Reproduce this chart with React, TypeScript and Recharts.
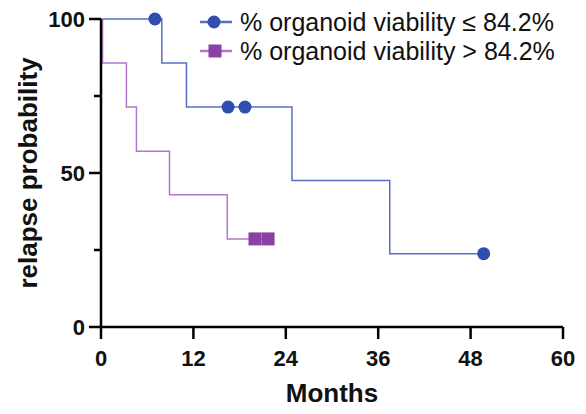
import { ComposedChart, Line, Scatter, XAxis, YAxis } from 'recharts';

// Kaplan-Meier step curves (months, % relapse probability)
const lowMonths = [0, 7.9, 11.1, 24.8, 37.5, 49.7];
const lowValues = [100, 85.7, 71.4, 47.6, 23.8, 23.8];
const lowCensorMonths = [7.0, 16.5, 18.7, 49.7];
const lowCensorValues = [100, 71.4, 71.4, 23.8];

const highMonths = [0, 0.2, 3.3, 4.6, 8.9, 16.4, 21.7];
const highValues = [100, 85.7, 71.4, 57.1, 42.9, 28.6, 28.6];
const highCensorMonths = [20.0, 21.7];
const highCensorValues = [28.6, 28.6];

const xTicks = [0, 12, 24, 36, 48, 60];
const yTicks = [0, 25, 50, 75, 100];
const yLabelTicks = [0, 50, 100];

const seriesNames = ['% organoid viability ≤ 84.2%', '% organoid viability > 84.2%'];

const BLUE_LINE = '#5a6fc3';
const BLUE_MARK = '#2f4eb0';
const PURPLE_LINE = '#b276cb';
const PURPLE_MARK = '#8b40a4';

const zip = (xs: number[], ys: number[]) => xs.map((x, i) => ({ x, y: ys[i] }));

const lowCurve = zip(lowMonths, lowValues);
const highCurve = zip(highMonths, highValues);
const lowCensor = zip(lowCensorMonths, lowCensorValues);
const highCensor = zip(highCensorMonths, highCensorValues);

const FONT = '"Liberation Sans", Arial, sans-serif';
const TICK_SIZE = 12;
const Y_GAP = 4;
const X_GAP = 11;

// tickLine is off, so recharts hands us the label anchor: axis - tickSize - tickMargin
function YTick(props: any) {
  const { x, y, payload } = props;
  const axisX = x + TICK_SIZE + Y_GAP;
  const major = yLabelTicks.includes(payload.value);
  const len = major ? TICK_SIZE : 7;
  return (
    <g>
      <line x1={axisX - len} x2={axisX} y1={y} y2={y} stroke="#000" strokeWidth={2.5} />
      {major && (
        <text x={x} y={y} dy="0.36em" textAnchor="end" fontFamily={FONT} fontWeight="bold" fontSize={22} fill="#111">
          {payload.value}
        </text>
      )}
    </g>
  );
}

function XTick(props: any) {
  const { x, y, payload } = props;
  const axisY = y - TICK_SIZE - X_GAP;
  return (
    <g>
      <line x1={x} x2={x} y1={axisY} y2={axisY + TICK_SIZE} stroke="#000" strokeWidth={2.5} />
      <text x={x} y={y} dy="0.71em" textAnchor="middle" fontFamily={FONT} fontWeight="bold" fontSize={22} fill="#111">
        {payload.value}
      </text>
    </g>
  );
}

function Dot(props: any) {
  const { cx, cy } = props;
  return <circle cx={cx} cy={cy} r={6.5} fill={BLUE_MARK} />;
}

function Square(props: any) {
  const { cx, cy } = props;
  return <rect x={cx - 6.5} y={cy - 6.5} width={13} height={13} fill={PURPLE_MARK} />;
}

function LegendRow({ y, color, line, name, square }: any) {
  return (
    <div style={{ position: 'absolute', left: 198, top: y - 15, height: 30, display: 'flex', alignItems: 'center' }}>
      <svg width={38} height={30}>
        <line x1={2} x2={34} y1={15} y2={15} stroke={line} strokeWidth={2.5} />
        {square ? (
          <rect x={10.5} y={8.5} width={13} height={13} fill={color} />
        ) : (
          <circle cx={16} cy={15} r={6.5} fill={color} />
        )}
      </svg>
      <span style={{ fontFamily: FONT, fontSize: 25, lineHeight: '30px', color: '#111', marginLeft: 4, whiteSpace: 'nowrap' }}>
        {name}
      </span>
    </div>
  );
}

export default function App() {
  return (
    <div style={{ position: 'absolute', left: 0, top: 0, width: 586, height: 414, background: '#fff' }}>
      <ComposedChart width={586} height={414} margin={{ top: 19, right: 23, bottom: 8, left: 10 }}>
        <XAxis
          type="number"
          dataKey="x"
          domain={[0, 60]}
          ticks={xTicks}
          interval={0}
          axisLine={{ stroke: '#000', strokeWidth: 2.5 }}
          tickLine={false}
          tickSize={TICK_SIZE}
          tickMargin={X_GAP}
          height={79}
          tick={<XTick />}
          label={{
            value: 'Months',
            position: 'insideBottom',
            offset: 4,
            style: { fontFamily: FONT, fontWeight: 'bold', fontSize: 26, fill: '#111' },
          }}
        />
        <YAxis
          type="number"
          dataKey="y"
          domain={[0, 100]}
          ticks={yTicks}
          interval={0}
          width={91}
          axisLine={{ stroke: '#000', strokeWidth: 2.5 }}
          tickLine={false}
          tickSize={TICK_SIZE}
          tickMargin={Y_GAP}
          tick={<YTick />}
          label={{
            value: 'relapse probability',
            angle: -90,
            position: 'insideLeft',
            offset: 18,
            style: { textAnchor: 'middle', fontFamily: FONT, fontWeight: 'bold', fontSize: 26, fill: '#111' },
          }}
        />
        <Line
          data={lowCurve}
          dataKey="y"
          type="stepAfter"
          stroke={BLUE_LINE}
          strokeWidth={1.5}
          dot={false}
          activeDot={false}
          isAnimationActive={false}
        />
        <Line
          data={highCurve}
          dataKey="y"
          type="stepAfter"
          stroke={PURPLE_LINE}
          strokeWidth={1.5}
          dot={false}
          activeDot={false}
          isAnimationActive={false}
        />
        <Scatter data={lowCensor} dataKey="y" shape={<Dot />} isAnimationActive={false} />
        <Scatter data={highCensor} dataKey="y" shape={<Square />} isAnimationActive={false} />
      </ComposedChart>
      <LegendRow y={21.5} color={BLUE_MARK} line={BLUE_LINE} name={seriesNames[0]} />
      <LegendRow y={51} color={PURPLE_MARK} line={PURPLE_LINE} name={seriesNames[1]} square />
    </div>
  );
}
